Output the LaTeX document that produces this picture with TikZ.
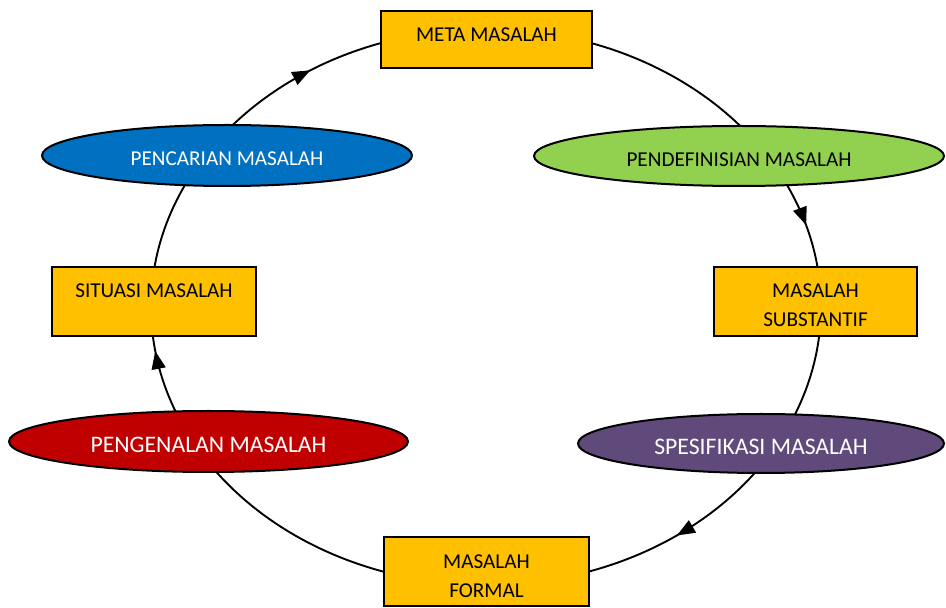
\documentclass[tikz,border=0pt]{standalone}
\usepackage{fontspec}
\setmainfont{Carlito}
\usetikzlibrary{shapes.geometric,arrows.meta,decorations.markings,backgrounds}

\definecolor{stageyellow}{HTML}{FFC000}
\definecolor{phaseblue}{HTML}{0070C0}
\definecolor{phasegreen}{HTML}{92D050}
\definecolor{phasered}{HTML}{C00000}
\definecolor{phasepurple}{HTML}{604A7B}

\tikzset{
  stage/.style={rectangle, draw=black, line width=2pt, fill=stageyellow,
    text=black, inner sep=0pt, align=center,
    font=\fontsize{21.2}{29}\selectfont},
  phase/.style={ellipse, draw=black, line width=2pt, inner sep=0pt,
    font=\fontsize{21.2}{29}\selectfont},
  bigphase/.style={phase, font=\fontsize{23.7}{29}\selectfont},
  ring/.style={line width=1.9pt, draw=black},
  flowtip/.style={postaction={decorate},
    decoration={markings, mark=at position #1 with
      {\arrow{Triangle[length=18pt,width=14pt]}}}},
}

\begin{document}
\begin{tikzpicture}[x=1pt,y=1pt]
  \useasboundingbox (0,0) rectangle (946,608);

  % rectangular stages
  \node[stage, minimum width=211pt, minimum height=57pt,
        text height=5pt, text depth=0pt] (meta) at (486.5,568.5) {META MASALAH};
  \node[stage, minimum width=204pt, minimum height=69pt,
        text height=0pt, text depth=7pt] (situasi) at (154,306.5) {SITUASI MASALAH};
  \node[stage, minimum width=203pt, minimum height=69pt,
        text height=51pt, text depth=0pt] (substantif) at (815.5,306.5) {MASALAH\\SUBSTANTIF};
  \node[stage, minimum width=205pt, minimum height=69pt,
        text height=53pt, text depth=0pt] (formal) at (486.5,36.5) {MASALAH\\FORMAL};

  % elliptical phases
  \node[phase, fill=phaseblue, text=white, minimum width=370pt, minimum height=61pt,
        text height=21pt, text depth=0pt] (pencarian) at (227,452.5) {PENCARIAN MASALAH};
  \node[phase, fill=phasegreen, text=black, minimum width=410pt, minimum height=60pt,
        text height=22pt, text depth=0pt] (pendefinisian) at (739,452) {PENDEFINISIAN MASALAH};
  \node[bigphase, fill=phasered, text=white, minimum width=399pt, minimum height=61pt,
        text height=23pt, text depth=0pt] (pengenalan) at (208.5,166.5) {PENGENALAN MASALAH};
  \node[bigphase, fill=phasepurple, text=white, minimum width=366pt, minimum height=59pt,
        text height=23pt, text depth=0pt] (spesifikasi) at (761,164.5) {SPESIFIKASI MASALAH};

  % the cycle ring, drawn behind the stages, running clockwise
  \begin{pgfonlayer}{background}
    \fill[white] (0,0) rectangle (946,608);
    \coordinate (hub) at (486,301);
    % meta -> pendefinisian
    \draw[ring] (hub) ++(73:335 and 278)
      arc[start angle=73, end angle=39, x radius=335, y radius=278];
    % pendefinisian -> substantif
    \draw[ring, flowtip=0.5] (hub) ++(27.5:335 and 278)
      arc[start angle=27.5, end angle=6.5, x radius=335, y radius=278];
    % substantif -> spesifikasi
    \draw[ring] (hub) ++(-4.5:335 and 278)
      arc[start angle=-4.5, end angle=-24, x radius=335, y radius=278];
    % spesifikasi -> formal
    \draw[ring, flowtip=0.5] (hub) ++(-35.5:335 and 278)
      arc[start angle=-35.5, end angle=-74, x radius=335, y radius=278];
    % formal -> pengenalan
    \draw[ring] (hub) ++(-106:335 and 278)
      arc[start angle=-106, end angle=-145, x radius=335, y radius=278];
    % pengenalan -> situasi
    \draw[ring, flowtip=0.76] (hub) ++(203.5:335 and 278)
      arc[start angle=203.5, end angle=184.5, x radius=335, y radius=278];
    % situasi -> pencarian
    \draw[ring] (hub) ++(173.5:335 and 278)
      arc[start angle=173.5, end angle=153, x radius=335, y radius=278];
    % pencarian -> meta
    \draw[ring, flowtip=0.55] (hub) ++(141:335 and 278)
      arc[start angle=141, end angle=106.5, x radius=335, y radius=278];
  \end{pgfonlayer}
\end{tikzpicture}
\end{document}
